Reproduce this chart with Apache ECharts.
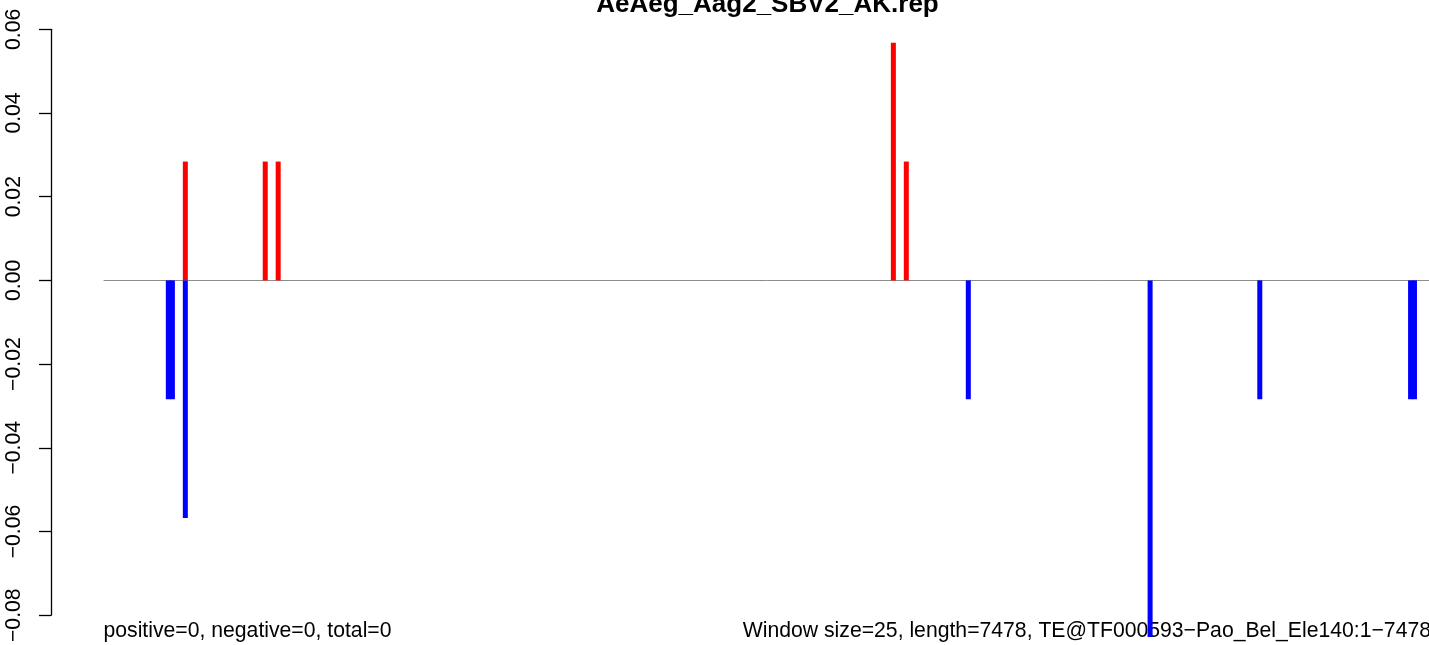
<!DOCTYPE html>
<html>
<head>
<meta charset="utf-8">
<script src="https://cdn.jsdelivr.net/npm/echarts@6/dist/echarts.min.js"></script>
<style>
html,body{margin:0;padding:0;background:#fff;}
#chart{width:1429px;height:645px;}
</style>
</head>
<body>
<div id="chart"></div>
<script>
// Sequence positions (bp) and values
const seqLength = 7478;
const positivePos = [459, 910, 983, 4455, 4528];
const positiveVal = [0.0284, 0.0284, 0.0284, 0.0568, 0.0284];
const negativePos = [363, 386, 459, 4878, 5904, 6523, 7374, 7396];
const negativeVal = [-0.0284, -0.0284, -0.0568, -0.0284, -0.0852, -0.0284, -0.0284, -0.0284];
const yTicks = [-0.08, -0.06, -0.04, -0.02, 0.00, 0.02, 0.04, 0.06];
const titleText = 'AeAeg_Aag2_SBV2_AK.rep';
const leftNote = 'positive=0, negative=0, total=0';
const rightNote = 'Window size=25, length=7478, TE@TF000593\u2212Pao_Bel_Ele140:1\u22127478';

const FONT = '"Liberation Sans", Arial, Helvetica, sans-serif';
const chart = echarts.init(document.getElementById('chart'), null, {renderer: 'canvas'});

function pairs(xs, ys) { return xs.map((x, i) => [x, ys[i]]); }

chart.setOption({
  animation: false,
  backgroundColor: '#ffffff',
  grid: {left: 104, right: -2, top: 29.3, bottom: 25, containLabel: false},
  xAxis: {
    type: 'value', min: 0, max: seqLength,
    axisLine: {show: true, onZero: true, lineStyle: {color: '#8c8c8c', width: 1}},
    axisTick: {show: false}, axisLabel: {show: false}, splitLine: {show: false}
  },
  yAxis: {
    type: 'value', min: yTicks[0], max: yTicks[yTicks.length - 1], interval: 0.02,
    offset: 53,
    axisLine: {show: true, onZero: false, lineStyle: {color: '#000', width: 1.3}},
    axisTick: {show: true, length: 12, lineStyle: {color: '#000', width: 1.3}},
    splitLine: {show: false},
    axisLabel: {
      rotate: 90, margin: 26, color: '#000', fontFamily: FONT, fontSize: 21.2,
      formatter: v => (v < -1e-9 ? '\u2212' : '') + Math.abs(v).toFixed(2)
    }
  },
  series: [
    {type: 'bar', data: pairs(positivePos, positiveVal), barWidth: 5, barGap: '-100%', clip: false,
     itemStyle: {color: '#ff0000'}},
    {type: 'bar', data: pairs(negativePos, negativeVal), barWidth: 5, barGap: '-100%', clip: false,
     itemStyle: {color: '#0000ff'}}
  ],
  graphic: [
    {type: 'text', style: {x: 767.5, y: 5, text: titleText, fill: '#000',
      font: 'bold 26px ' + FONT, textAlign: 'center', textVerticalAlign: 'middle'}},
    {type: 'text', style: {x: 103.5, y: 631, text: leftNote, fill: '#000',
      font: '21.2px ' + FONT, textAlign: 'left', textVerticalAlign: 'middle'}},
    {type: 'text', style: {x: 1431, y: 631, text: rightNote, fill: '#000',
      font: '21.2px ' + FONT, textAlign: 'right', textVerticalAlign: 'middle'}}
  ]
});
</script>
</body>
</html>
